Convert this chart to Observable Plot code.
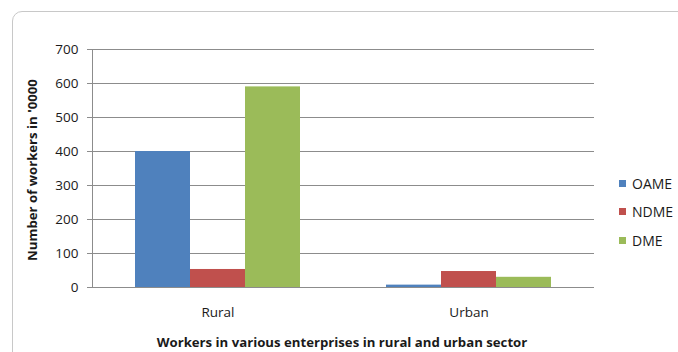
<!DOCTYPE html>
<html>
<head>
<meta charset="utf-8">
<script src="https://cdn.jsdelivr.net/npm/d3@7"></script>
<script src="https://cdn.jsdelivr.net/npm/@observablehq/plot@0.6"></script>
<style>
  html, body { margin: 0; padding: 0; background: #fff; }
  #wrap { position: relative; width: 678px; height: 352px; overflow: hidden; font-family: "Open Sans", sans-serif; color: #1a1a1a; }
  #border { position: absolute; left: 12px; top: 11px; width: 720px; height: 420px; border: 1.5px solid #c8c8c8; border-radius: 10px; box-sizing: border-box; }
  #chart { position: absolute; left: 0; top: 0; }
  #ytitle { position: absolute; left: 32px; top: 170px; transform: translate(-50%, -50%) rotate(-90deg); white-space: nowrap; font-weight: bold; font-size: 13.2px; }
  #xtitle { position: absolute; left: 342px; top: 342px; transform: translate(-50%, -50%); white-space: nowrap; font-weight: bold; font-size: 13.2px; }
  #legend { position: absolute; left: 619px; top: 169px; font-size: 14px; }
  #legend .item { display: flex; align-items: center; height: 28.5px; }
  #legend .sw { width: 7px; height: 7px; margin-right: 6px; }
</style>
</head>
<body>
<div id="wrap">
  <div id="border"></div>
  <div id="chart"></div>
  <div id="ytitle">Number of workers in '0000</div>
  <div id="xtitle">Workers in various enterprises in rural and urban sector</div>
  <div id="legend"></div>
</div>
<script>
// Sectors, enterprise types and worker counts (in '0000)
const sectors = ["Rural", "Urban"];
const series = ["OAME", "NDME", "DME"];
const ruralValues = [400, 53, 590];
const urbanValues = [7, 47, 30];
const seriesColors = ["#4F81BD", "#C0504D", "#9BBB59"];
const yTicks = [0, 100, 200, 300, 400, 500, 600, 700];

const valuesBySector = {Rural: ruralValues, Urban: urbanValues};
const rows = sectors.flatMap(s => series.map((t, i) => ({sector: s, type: t, value: valuesBySector[s][i]})));

const gridColor = "#8c8c8c";

const chart = Plot.plot({
  width: 678,
  height: 352,
  marginLeft: 91,
  marginRight: 84,
  marginTop: 49,
  marginBottom: 65,
  style: {fontFamily: "'Open Sans', sans-serif", fontSize: "13.5px", color: "#1a1a1a", background: "transparent"},
  fx: {domain: sectors, padding: 0, axis: "bottom", tickSize: 0, tickPadding: 20, label: null},
  x: {domain: series, paddingInner: 0, paddingOuter: 0.745, axis: null},
  y: {domain: [0, 700], axis: null},
  color: {domain: series, range: seriesColors},
  marks: [
    // horizontal gridlines, repeated in each sector panel (panels abut, so they read as continuous)
    Plot.ruleY(yTicks, {stroke: gridColor, strokeWidth: 1}),
    Plot.frame({anchor: "left", stroke: gridColor, facet: "super"}),
    Plot.barY(rows, {fx: "sector", x: "type", y: "value", fill: "type"}),
    Plot.axisY({ticks: yTicks, tickSize: 5, tickPadding: 9, stroke: gridColor, fill: "#1a1a1a", label: null})
  ]
});
document.getElementById("chart").appendChild(chart);

// Legend
const legend = document.getElementById("legend");
series.forEach((s, i) => {
  const item = document.createElement("div");
  item.className = "item";
  item.innerHTML = `<span class="sw" style="background:${seriesColors[i]}"></span><span>${s}</span>`;
  legend.appendChild(item);
});
</script>
</body>
</html>
